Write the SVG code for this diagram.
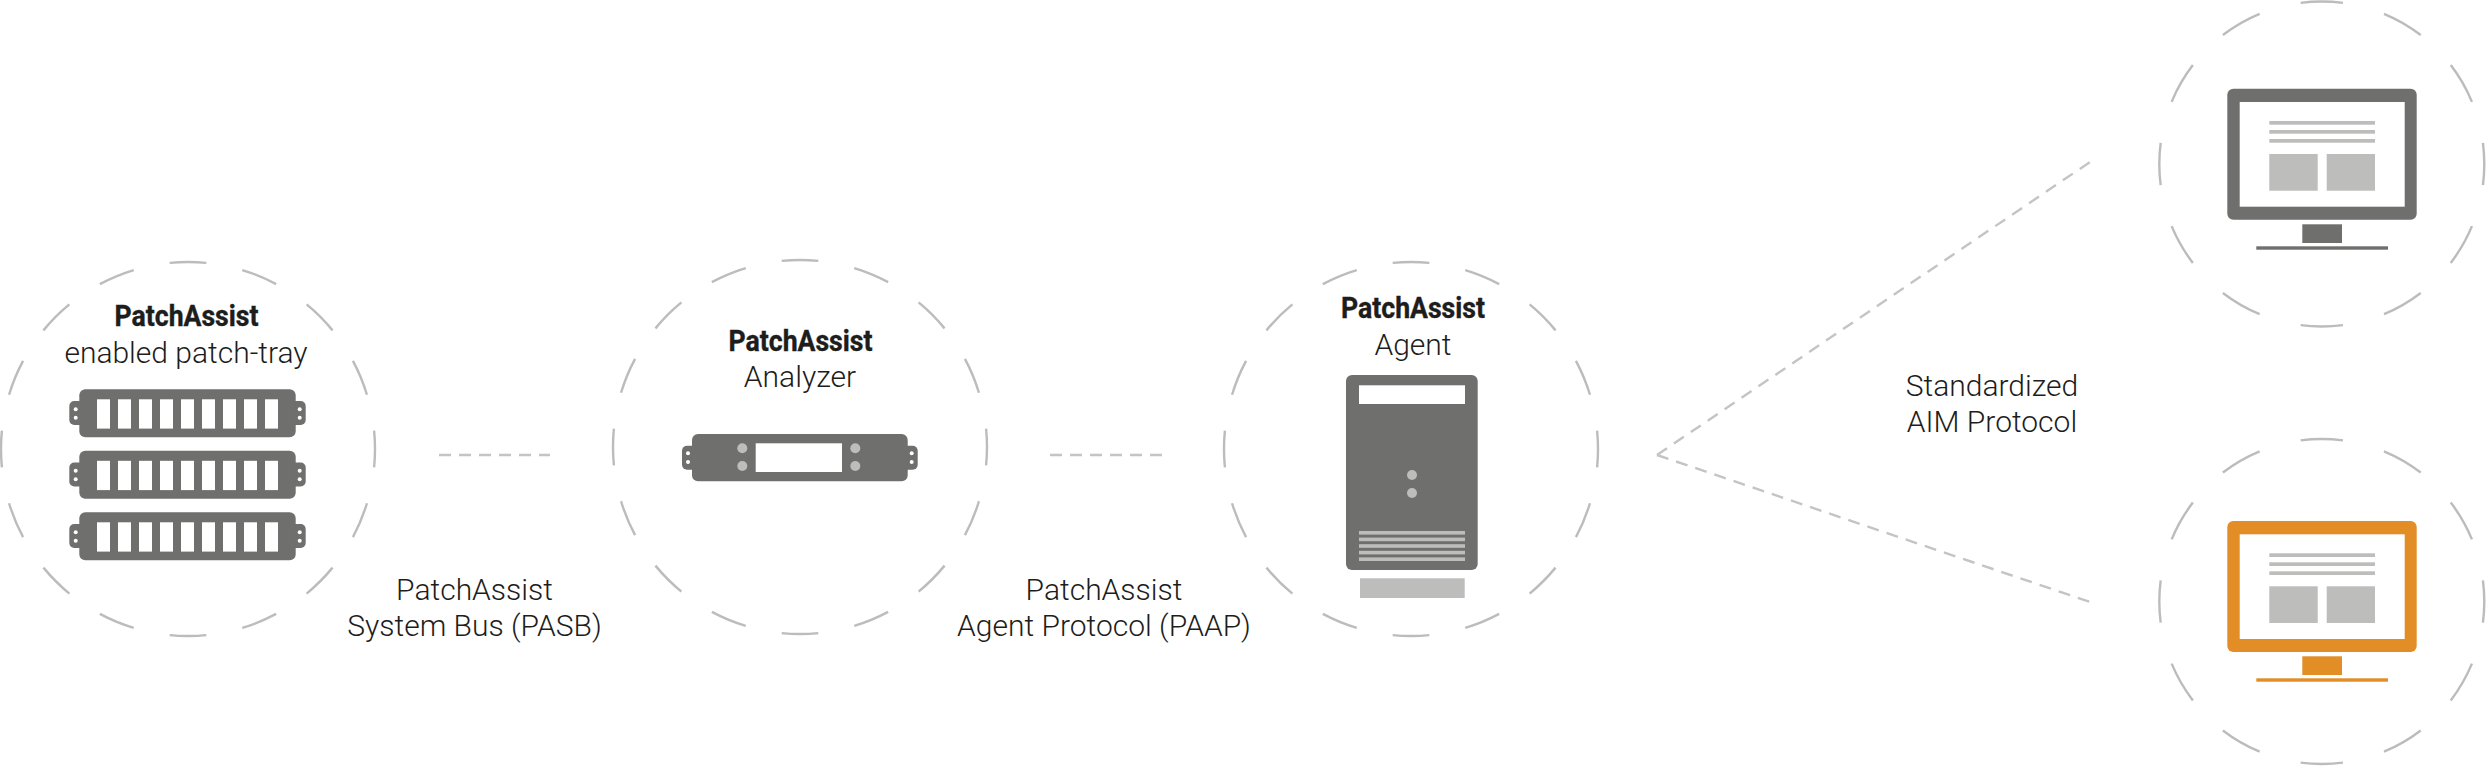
<svg xmlns="http://www.w3.org/2000/svg" width="2486" height="766" viewBox="0 0 2486 766" xmlns:xlink="http://www.w3.org/1999/xlink">
<style>
.ring{fill:none;stroke:#bcbcbb;stroke-width:2.4;stroke-dasharray:.5 .5;stroke-dashoffset:.25}
.d{fill:#6f6f6e}.o{fill:#e28d26}.l{fill:#bdbdbc}.w{fill:#fff}
text{font-family:Roboto,"Liberation Sans",sans-serif;font-size:30px;font-weight:300;fill:#1d1d1b;text-anchor:middle}
text.b{font-weight:700;stroke:#1d1d1b;stroke-width:.4}
.c{fill:none;stroke:#c4c4c3;stroke-width:2.4;stroke-dasharray:12 8}
</style>
<defs>
<g id="tray">
<rect class="d" x="69.3" y="401" width="30" height="24" rx="5"/>
<rect class="d" x="275.7" y="401" width="30" height="24" rx="5"/>
<rect class="d" x="79.3" y="389.3" width="216.4" height="48" rx="6"/>
<g class="w">
<circle cx="75.7" cy="409.3" r="2"/><circle cx="75.7" cy="417.7" r="2"/><circle cx="299.7" cy="409.3" r="2"/><circle cx="299.7" cy="417.7" r="2"/>
<rect x="97" y="399.3" width="13" height="29.3"/><rect x="118" y="399.3" width="13" height="29.3"/><rect x="139" y="399.3" width="13" height="29.3"/><rect x="160" y="399.3" width="13" height="29.3"/><rect x="181" y="399.3" width="13" height="29.3"/><rect x="202" y="399.3" width="13" height="29.3"/><rect x="223" y="399.3" width="13" height="29.3"/><rect x="244" y="399.3" width="13" height="29.3"/><rect x="265" y="399.3" width="13" height="29.3"/>
</g>
</g>
<g id="screen">
<rect class="w" x="2239.7" y="102" width="165" height="104.7"/>
<g class="l">
<rect x="2269.3" y="121" width="105.7" height="3.7"/><rect x="2269.3" y="130" width="105.7" height="3.7"/><rect x="2269.3" y="139" width="105.7" height="3.7"/>
<rect x="2269.3" y="154" width="48.4" height="36.7"/><rect x="2326.7" y="154" width="48.3" height="36.7"/>
</g>
</g>
</defs>
<g id="connectors">
<path class="c" d="M439 455H550"/>
<path class="c" d="M1050 455H1162"/>
<path class="c" style="stroke-dasharray:12 8.42" d="M1657 455L2090 162"/>
<path class="c" style="stroke-dasharray:12 8.2" d="M1657 455L2090 602"/>
</g>
<g id="patch-tray">
<circle class="ring" cx="188" cy="449" r="187" pathLength="16"/>
<text class="b" x="186.5" y="326" textLength="144" lengthAdjust="spacingAndGlyphs">PatchAssist</text>
<text x="186" y="362.5">enabled patch-tray</text>
<use xlink:href="#tray" href="#tray"/>
<use xlink:href="#tray" href="#tray" y="61.5"/>
<use xlink:href="#tray" href="#tray" y="123"/>
</g>
<g id="analyzer">
<circle class="ring" cx="800" cy="447" r="187" pathLength="16"/>
<text class="b" x="800.5" y="351" textLength="144" lengthAdjust="spacingAndGlyphs">PatchAssist</text>
<text x="800" y="387">Analyzer</text>
<rect class="d" x="682" y="445.7" width="30" height="24" rx="5"/>
<rect class="d" x="887.7" y="445.7" width="30" height="24" rx="5"/>
<rect class="d" x="692" y="434" width="215.7" height="47.3" rx="6"/>
<g class="w"><circle cx="688" cy="453.3" r="2"/><circle cx="688" cy="462" r="2"/><circle cx="911.7" cy="453.3" r="2"/><circle cx="911.7" cy="462" r="2"/>
<rect x="755.7" y="443.3" width="86.3" height="28.7"/></g>
<g class="l"><circle cx="742.3" cy="448.3" r="5"/><circle cx="742.3" cy="466" r="5"/><circle cx="855.3" cy="448.3" r="5"/><circle cx="855.3" cy="466" r="5"/></g>
</g>
<g id="agent">
<circle class="ring" cx="1411" cy="449" r="187" pathLength="16"/>
<text class="b" x="1413" y="318" textLength="144" lengthAdjust="spacingAndGlyphs">PatchAssist</text>
<text x="1413" y="355">Agent</text>
<rect class="d" x="1346" y="375" width="131.7" height="195" rx="6"/>
<rect class="w" x="1359" y="385.3" width="106" height="18.7"/>
<g class="l"><circle cx="1412" cy="475" r="5"/><circle cx="1412" cy="493" r="5"/>
<rect x="1359" y="531" width="106" height="3.6"/><rect x="1359" y="537.6" width="106" height="3.6"/><rect x="1359" y="544.2" width="106" height="3.6"/><rect x="1359" y="550.8" width="106" height="3.6"/><rect x="1359" y="557.4" width="106" height="3.6"/>
<rect x="1360" y="578.3" width="104.7" height="19.7"/></g>
</g>
<g id="monitor-grey">
<circle class="ring" cx="2321.8" cy="164" r="162.5" pathLength="12"/>
<g class="d"><rect x="2227.3" y="88.7" width="189.4" height="131" rx="6"/><rect x="2302.3" y="224.3" width="39.7" height="18.7"/><rect x="2256.3" y="246.3" width="131.7" height="3.4"/></g>
<use xlink:href="#screen" href="#screen"/>
</g>
<g id="monitor-orange">
<circle class="ring" cx="2321.8" cy="601.5" r="162.5" pathLength="12"/>
<g class="o"><rect x="2227.3" y="521" width="189.4" height="131" rx="6"/><rect x="2302.3" y="656.3" width="39.7" height="18.7"/><rect x="2256.3" y="678.3" width="131.7" height="3.4"/></g>
<use xlink:href="#screen" href="#screen" y="432.3"/>
</g>
<g id="labels">
<text x="474.5" y="600">PatchAssist</text>
<text x="474.5" y="636">System Bus (PASB)</text>
<text x="1104" y="600">PatchAssist</text>
<text x="1104" y="636">Agent Protocol (PAAP)</text>
<text x="1992" y="395.7">Standardized</text>
<text x="1992" y="431.7">AIM Protocol</text>
</g>
</svg>
